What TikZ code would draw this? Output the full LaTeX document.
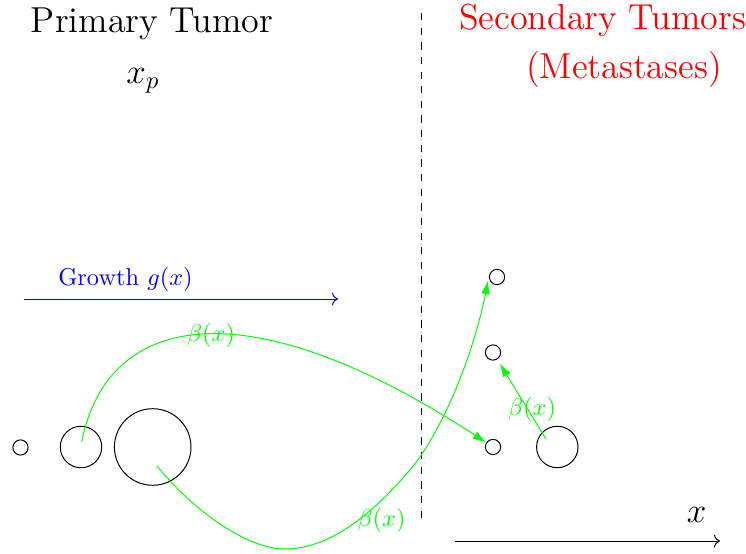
\documentclass[tikz,border=0pt]{standalone}
\usepackage{amsmath}
\usepackage{tikz}
\usetikzlibrary{arrows.meta}

\begin{document}
\begin{tikzpicture}[
    x=0.41pt, y=-0.41pt,
    tumor/.style={
        circle,
        draw=black,
        thin,
        inner sep=0pt
    },
    smalltumor/.style={
        tumor,
        minimum size=6.25pt
    },
    midtumor/.style={
        tumor,
        minimum size=17pt
    },
    bigtumor/.style={
        tumor,
        minimum size=31.4pt
    },
    heading/.style={
        font=\fontsize{14.8}{18}\selectfont,
        inner sep=0pt
    },
    ratelabel/.style={
        text=green,
        inner sep=0pt
    },
    spreadarrow/.style={
        -{Latex[length=5.5pt, width=3.6pt]},
        thin,
        draw=green
    },
    growtharrow/.style={
        ->,
        thin,
        draw=blue
    },
    axisarrow/.style={
        ->,
        thin,
        draw=black
    }
]
    \useasboundingbox (0,0) rectangle (746,554);

    % --- HEADINGS ---
    \node[heading] (primary) at (152,24) {Primary Tumor};
    \node[heading] (xp) at (143,81) {$x_p$};
    \node[heading, text=red] (secondary) at (602.5,20) {Secondary Tumors};
    \node[heading, text=red] (metastases) at (624,70) {(Metastases)};

    % --- DIVIDER AND AXES ---
    \draw[dashed, thin] (421.5,13) -- (421.5,522);
    \draw[growtharrow] (24,299) -- (338,299);
    \node[text=blue, inner sep=0pt] (growth) at (125.5,279.5) {Growth $g(x)$};
    \draw[axisarrow] (455,541) -- (720,541);
    \node[heading] (xlabel) at (696.7,515) {$x$};

    % --- PRIMARY SITE ---
    \node[smalltumor] (p1) at (20.5,447.5) {};
    \node[midtumor] (p2) at (81,447) {};
    \node[bigtumor] (p3) at (152.7,447) {};

    % --- SECONDARY SITE ---
    \node[smalltumor] (s1) at (497,277) {};
    \node[smalltumor] (s2) at (493,352.5) {};
    \node[smalltumor] (s3) at (493,447) {};
    \node[midtumor] (m2) at (557.3,447) {};

    % start points of the spreading paths (inside the tumors)
    \coordinate (p2out) at (81.7,441.7);
    \coordinate (p3out) at (157,466);
    \coordinate (m2out) at (546,439);

    % --- METASTATIC SPREAD ---
    \draw[spreadarrow] (p2out) .. controls (108,310) and (250,288) .. (s3);
    \node[ratelabel] (beta1) at (211,335) {$\beta(x)$};

    \draw[spreadarrow, shorten >=1.5pt] (p3out) .. controls (190,507) and (245,549) .. (285,549)
        .. controls (335,549) and (380,505) .. (410,470)
        .. controls (435,441) and (470,370) .. (s1.west);
    \node[ratelabel] (beta2) at (381.5,520) {$\beta(x)$};

    \draw[spreadarrow, shorten >=2pt] (m2out) -- (s2);
    \node[ratelabel] (beta3) at (532,409.5) {$\beta(x)$};

\end{tikzpicture}
\end{document}
